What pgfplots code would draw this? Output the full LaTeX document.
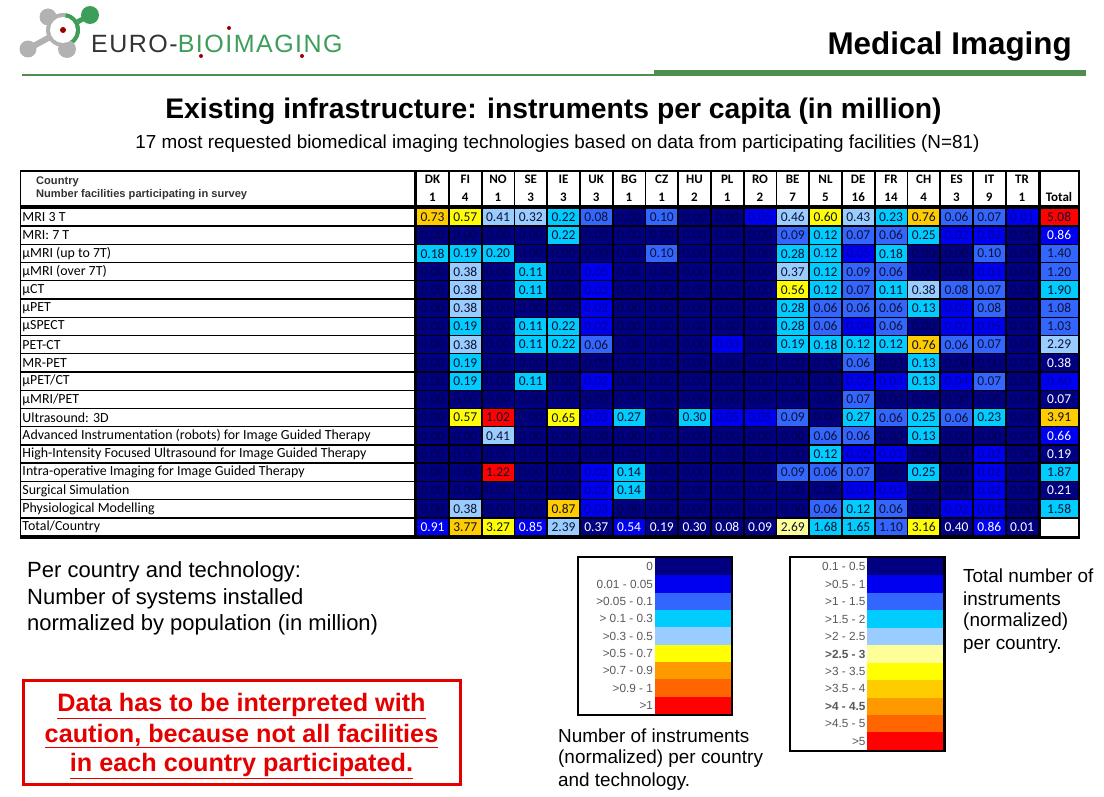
\documentclass[border=0pt]{standalone}
\usepackage{pgfplots}
\usepackage{pgfplotstable}
\usepackage{fontspec}
\pgfplotsset{compat=1.18}
\setmainfont{Liberation Sans}
\newfontfamily\calibri{Carlito}
\newfontfamily\logofont[LetterSpace=6]{Liberation Sans}
\definecolor{logogreen}{HTML}{3C9E58}
\definecolor{rulegreen}{HTML}{4E8F4E}
\definecolor{bk}{HTML}{101030}
\definecolor{bl}{HTML}{0000A0}
\definecolor{zerotxt}{HTML}{00004D}
\definecolor{lowtxt}{HTML}{000099}
\newcommand\fs[1]{\fontsize{#1}{#1}\selectfont}

% classes index the shared colormap below
\newcommand\cellclass[1]{(#1<=0?0:(#1<=0.05?1:(#1<=0.1?2:(#1<=0.3?3:(#1<=0.5?4:(#1<=0.7?6:(#1<=0.9?7:(#1<=1?9:10))))))))}
\newcommand\totalclass[1]{(#1<=0.5?0:(#1<=1?1:(#1<=1.5?2:(#1<=2?3:(#1<=2.5?4:(#1<=3?5:(#1<=3.5?6:(#1<=4?7:(#1<=4.5?8:(#1<=5?9:10))))))))))}
\newcommand\numtwo[1]{\pgfmathprintnumber[fixed,fixed zerofill,precision=2,assume math mode=true]{#1}}
\newcommand\cellprint[1]{\ifdim#1pt=0pt\color{zerotxt}\else\ifdim#1pt>0.05pt\color{bk}\else\color{lowtxt}\fi\fi\numtwo{#1}}
\newcommand\totalprint[1]{\ifdim#1pt=0.6pt\color{bl}\else\ifdim#1pt<1pt\color{white}\else\color{bk}\fi\fi\numtwo{#1}}

\pgfdeclareplotmark{cell}{\pgfpathrectangle{\pgfpoint{-15.5pt}{-8.45pt}}{\pgfpoint{31pt}{16.9pt}}\pgfusepathqfill}
\pgfdeclareplotmark{totalcell}{\pgfpathrectangle{\pgfpoint{-18.5pt}{-8.45pt}}{\pgfpoint{37pt}{16.9pt}}\pgfusepathqfill}
\pgfdeclareplotmark{labelcell}{\pgfpathrectangle{\pgfpoint{-196.5pt}{-8.45pt}}{\pgfpoint{393pt}{16.9pt}}\pgfusepathqfill}
\pgfdeclareplotmark{headcell}{\pgfpathrectangle{\pgfpoint{-15.5pt}{-16.5pt}}{\pgfpoint{31pt}{33pt}}\pgfusepathqfill}
\pgfdeclareplotmark{swatch}{\pgfpathrectangle{\pgfpoint{-38pt}{-8.75pt}}{\pgfpoint{76pt}{17.5pt}}\pgfusepathqfill}

% one line per country, one column per technology
\pgfplotstableread{
c code n t0 t1 t2 t3 t4 t5 t6 t7 t8 t9 t10 t11 t12 t13 t14 t15 t16 total
0 DK 1 0.73 0 0.18 0 0 0 0 0 0 0 0 0 0 0 0 0 0 0.91
1 FI 4 0.57 0 0.19 0.38 0.38 0.38 0.19 0.38 0.19 0.19 0 0.57 0 0 0 0 0.38 3.77
2 NO 1 0.41 0 0.20 0 0 0 0 0 0 0 0 1.02 0.41 0 1.22 0 0 3.27
3 SE 3 0.32 0 0 0.11 0.11 0 0.11 0.11 0 0.11 0 0 0 0 0 0 0 0.85
4 IE 3 0.22 0.22 0 0 0 0 0.22 0.22 0 0 0 0.65 0 0 0 0 0.87 2.39
5 UK 3 0.08 0 0 0.05 0.03 0.02 0.02 0.06 0 0.02 0 0.03 0 0 0.02 0.02 0.03 0.37
6 BG 1 0 0 0 0 0 0 0 0 0 0 0 0.27 0 0 0.14 0.14 0 0.54
7 CZ 1 0.10 0 0.10 0 0 0 0 0 0 0 0 0 0 0 0 0 0 0.19
8 HU 2 0 0 0 0 0 0 0 0 0 0 0 0.30 0 0 0 0 0 0.30
9 PL 1 0 0 0 0 0 0 0 0.03 0 0 0 0.05 0 0 0 0 0 0.08
10 RO 2 0.05 0 0 0 0 0 0 0 0 0 0 0.05 0 0 0 0 0 0.09
11 BE 7 0.46 0.09 0.28 0.37 0.56 0.28 0.28 0.19 0 0 0 0.09 0 0 0.09 0 0 2.69
12 NL 5 0.60 0.12 0.12 0.12 0.12 0.06 0.06 0.18 0 0 0 0 0.06 0.12 0.06 0 0.06 1.68
13 DE 16 0.43 0.07 0.05 0.09 0.07 0.06 0.04 0.12 0.06 0.02 0.07 0.27 0.06 0.02 0.07 0.01 0.12 1.65
14 FR 14 0.23 0.06 0.18 0.06 0.11 0.06 0.06 0.12 0 0.03 0 0.06 0 0.03 0 0.03 0.06 1.10
15 CH 4 0.76 0.25 0 0 0.38 0.13 0 0.76 0.13 0.13 0 0.25 0.13 0 0.25 0 0 3.16
16 ES 3 0.06 0.02 0 0 0.08 0.02 0.02 0.06 0 0.04 0 0.06 0 0 0 0 0.02 0.40
17 IT 9 0.07 0.02 0.10 0.03 0.07 0.08 0.05 0.07 0 0.07 0 0.23 0 0.02 0.02 0.02 0.03 0.86
18 TR 1 0.01 0 0 0 0 0 0 0 0 0 0 0 0 0 0 0 0 0.01
}\countries

\pgfplotstableread[col sep=comma]{
r,total,label
0,5.08,MRI 3 T
1,0.86,MRI: 7 T
2,1.40,µMRI (up to 7T)
3,1.20,µMRI (over 7T)
4,1.90,µCT
5,1.08,µPET
6,1.03,µSPECT
7,2.29,PET-CT
8,0.38,MR-PET
9,0.60,µPET/CT
10,0.07,µMRI/PET
11,3.91,Ultrasound: 3D
12,0.66,Advanced Instrumentation (robots) for Image Guided Therapy
13,0.19,High-Intensity Focused Ultrasound for Image Guided Therapy
14,1.87,Intra-operative Imaging for Image Guided Therapy
15,0.21,Surgical Simulation
16,1.58,Physiological Modelling
}\technologies

\pgfplotstableread[col sep=comma]{
i,k,label
0,0,0
1,1,0.01 - 0.05
2,2,>0.05 - 0.1
3,3,> 0.1 - 0.3
4,4,>0.3 - 0.5
5,6,>0.5 - 0.7
6,8,>0.7 - 0.9
7,9,>0.9 - 1
8,10,>1
}\keycells

\pgfplotstableread[col sep=comma]{
i,k,label
0,0,0.1 - 0.5
1,1,>0.5 - 1
2,2,>1 - 1.5
3,3,>1.5 - 2
4,4,>2 - 2.5
5,5,\bfseries >2.5 - 3
6,6,>3 - 3.5
7,7,>3.5 - 4
8,8,\bfseries >4 - 4.5
9,9,>4.5 - 5
10,10,>5
}\keytotals

\begin{document}
\begin{tikzpicture}
\useasboundingbox (0,0) rectangle (1104pt,797pt);
\begin{axis}[
  at={(0,0)}, anchor=south west,
  hide axis,
  scale only axis,
  width=1104pt, height=797pt,
  xmin=0, xmax=1104, ymin=0, ymax=797,
  y dir=reverse,
  clip=false,
  colormap={slide}{
    rgb255=(0,0,128) rgb255=(0,0,240) rgb255=(51,102,255) rgb255=(0,204,255)
    rgb255=(153,204,255) rgb255=(255,255,153) rgb255=(255,255,0) rgb255=(255,204,0)
    rgb255=(255,153,0) rgb255=(255,102,0) rgb255=(255,0,0)},
  point meta min=0, point meta max=10,
  every node near coord/.append style={inner sep=0pt, outer sep=0pt},
  nodes near coords align=center,
]

% page head
\fill[rulegreen] (22,74.5) rectangle (1086,76);
\fill[rulegreen] (654,70) rectangle (1086,76);
\node[anchor=east, inner sep=0pt, font=\bfseries\fs{31.4}] at (1072,46) {Medical Imaging};
\node[font=\bfseries\fs{28.3}] at (553.5,111) {Existing infrastructure: instruments per capita (in million)};
\node[font=\fs{18.85}] at (557.5,144) {17 most requested biomedical imaging technologies based on data from participating facilities (N=81)};

% logo
\draw[line width=6pt, black!30] (48,17)--(63,30) (28,49)--(63,30) (67,49)--(63,30);
\draw[line width=5pt, logogreen] (90,15)--(63,30);
\fill[black!30] (63,30) circle (17pt);
\fill[logogreen] (63,30) -- ++(80:17pt) arc (80:-60:17pt) -- cycle;
\fill[black!30] (48,17) circle (8.5pt) (28,49) circle (8.5pt) (67,49) circle (9pt);
\fill[logogreen] (90,15) circle (9pt);
\fill[white] (63,30) circle (13pt);
\fill[red!60!black] (63,30) circle (3pt);
\node[anchor=west, font=\logofont\fs{25}, text=black!80, inner sep=0pt] at (91,44) {EURO-\textcolor{logogreen}{BIOIMAGING}};
\fill[red!60!black] (229,28) circle (2pt) (201,56) circle (2pt) (302,56) circle (2pt);

% table frame and header
\fill[black] (20,170) rectangle (1080,538.5);
\fill[white] (21,172) rectangle (414,205);
\node[anchor=west, inner sep=0pt, font=\bfseries\fs{11.1}, text=black!80] at (36,182) {Country};
\node[anchor=west, inner sep=0pt, font=\bfseries\fs{11.1}, text=black!80] at (36,195) {Number facilities participating in survey};
\addplot[only marks, mark=headcell, mark options={fill=white, draw=none},
    nodes near coords, point meta=explicit symbolic,
    nodes near coords style={font=\calibri\bfseries\fs{13}, text=black, yshift=9pt}]
  table[x expr=432.5+32.75*\thisrow{c}, y expr=188.5, meta=code] {\countries};
\addplot[only marks, mark=none,
    nodes near coords, point meta=explicit symbolic,
    nodes near coords style={font=\calibri\bfseries\fs{13}, text=black}]
  table[x expr=432.5+32.75*\thisrow{c}, y expr=197, meta=n] {\countries};
\fill[white] (1040.5,172) rectangle (1078,205);
\node[font=\calibri\bfseries\fs{13}] at (1059,197) {Total};

% row labels
\addplot[only marks, mark=labelcell, mark options={fill=white, draw=none},
    nodes near coords, point meta=explicit symbolic,
    nodes near coords style={font=\calibri\fs{13.9}, text=black, anchor=west, xshift=-195pt}]
  table[x expr=217.5, y expr=217+18.23*\thisrow{r}, meta=label] {\technologies};
\addplot[only marks, mark=labelcell, mark options={fill=white, draw=none},
    nodes near coords={Total/Country},
    nodes near coords style={font=\calibri\fs{13.9}, text=black, anchor=west, xshift=-195pt}]
  coordinates {(217.5,527)};
\fill[black] (21,517) rectangle (1079,519);

% cells, one row per technology
\pgfplotsinvokeforeach{0,...,16}{
  \addplot[scatter, only marks, mark=cell,
      scatter/use mapped color={draw=none, fill=mapped color},
      point meta=explicit]
    table[x expr=432.5+32.75*\thisrow{c}, y expr=217+18.23*#1, meta expr=\cellclass{\thisrow{t#1}}] {\countries};
  \addplot[only marks, mark=none,
      point meta=explicit symbolic,
      nodes near coords={\cellprint{\pgfplotspointmeta}},
      nodes near coords style={font=\calibri\fs{13.5}}]
    table[x expr=432.5+32.75*\thisrow{c}, y expr=217+18.23*#1, meta=t#1] {\countries};
}

% total per technology, total per country
\addplot[scatter, only marks, mark=totalcell,
    scatter/use mapped color={draw=none, fill=mapped color},
    point meta=explicit]
  table[x expr=1059.2, y expr=217+18.23*\thisrow{r}, meta expr=\totalclass{\thisrow{total}}] {\technologies};
\addplot[only marks, mark=none,
    point meta=explicit symbolic,
    nodes near coords={\totalprint{\pgfplotspointmeta}},
    nodes near coords style={font=\calibri\fs{13.5}}]
  table[x expr=1059.2, y expr=217+18.23*\thisrow{r}, meta=total] {\technologies};
\addplot[scatter, only marks, mark=cell,
    scatter/use mapped color={draw=none, fill=mapped color},
    point meta=explicit]
  table[x expr=432.5+32.75*\thisrow{c}, y expr=527, meta expr=\totalclass{\thisrow{total}}] {\countries};
\addplot[only marks, mark=none,
    point meta=explicit symbolic,
    nodes near coords={\totalprint{\pgfplotspointmeta}},
    nodes near coords style={font=\calibri\fs{13.5}}]
  table[x expr=432.5+32.75*\thisrow{c}, y expr=527, meta=total] {\countries};
\fill[white] (1040.5,518.8) rectangle (1078,535.5);

% colour keys
\fill[black] (576.5,556) rectangle (733,716);
\fill[white] (578.5,558) rectangle (655,714);
\addplot[scatter, only marks, mark=swatch,
    scatter/use mapped color={draw=none, fill=mapped color},
    point meta=explicit]
  table[x expr=692.5, y expr=566.7+17.35*\thisrow{i}, meta=k] {\keycells};
\addplot[only marks, mark=none,
    point meta=explicit symbolic, nodes near coords,
    nodes near coords style={font=\fs{11.8}, text=black!65, anchor=east, xshift=-39.5pt}]
  table[x expr=692.5, y expr=566.7+17.35*\thisrow{i}, meta=label] {\keycells};
\fill[black] (789,556) rectangle (946,752);
\fill[white] (791,558) rectangle (867,750);
\addplot[scatter, only marks, mark=swatch,
    scatter/use mapped color={draw=none, fill=mapped color},
    point meta=explicit]
  table[x expr=905, y expr=566.7+17.45*\thisrow{i}, meta=k] {\keytotals};
\addplot[only marks, mark=none,
    point meta=explicit symbolic, nodes near coords,
    nodes near coords style={font=\fs{11.8}, text=black!65, anchor=east, xshift=-39.5pt}]
  table[x expr=905, y expr=566.7+17.45*\thisrow{i}, meta=label] {\keytotals};

% notes
\node[anchor=west, inner sep=0pt, font=\fs{22}] at (27,572) {Per country and technology:};
\node[anchor=west, inner sep=0pt, font=\fs{22}] at (27,598.5) {Number of systems installed};
\node[anchor=west, inner sep=0pt, font=\fs{22}] at (27,625) {normalized by population (in million)};
\node[anchor=west, inner sep=0pt, font=\fs{18.9}] at (558,736) {Number of instruments};
\node[anchor=west, inner sep=0pt, font=\fs{18.9}] at (558,759) {(normalized) per country};
\node[anchor=west, inner sep=0pt, font=\fs{18.9}] at (558,782) {and technology.};
\node[anchor=west, inner sep=0pt, font=\fs{18.9}] at (963,576) {Total number of};
\node[anchor=west, inner sep=0pt, font=\fs{18.9}] at (963,599) {instruments};
\node[anchor=west, inner sep=0pt, font=\fs{18.9}] at (963,622) {(normalized)};
\node[anchor=west, inner sep=0pt, font=\fs{18.9}] at (963,645) {per country.};
\draw[red!90!black, line width=3pt] (23,680) rectangle (460,784);
\node[font=\bfseries\fs{25.2}, text=red!90!black] at (241.5,706) {\underline{Data has to be interpreted with}};
\node[font=\bfseries\fs{25.2}, text=red!90!black] at (241.5,736) {\underline{caution, because not all facilities}};
\node[font=\bfseries\fs{25.2}, text=red!90!black] at (241.5,766) {\underline{in each country participated.}};
\end{axis}
\end{tikzpicture}
\end{document}
